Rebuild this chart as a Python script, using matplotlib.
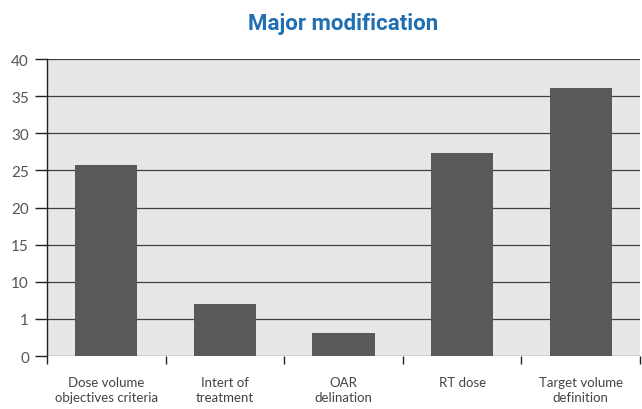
import numpy as np
import matplotlib.pyplot as plt
from matplotlib.ticker import FixedLocator

categories = ["Dose volume\nobjectives criteria", "Intert of\ntreatment", "OAR\ndelination",
              "RT dose", "Target volume\ndefinition"]
values = [25.7, 7.0, 3.1, 27.4, 36.1]
ytick_pos = [0, 5, 10, 15, 20, 25, 30, 35, 40]
ytick_labels = ["0", "1", "10", "15", "20", "25", "30", "35", "40"]

label_font = ["Lato", "DejaVu Sans"]

fig = plt.figure(figsize=(6.42, 4.10), dpi=100)
ax = fig.add_axes([0.0732, 0.129, 0.9237, 0.7244])
ax.set_facecolor("#e6e7e8")

x = np.arange(len(categories))
ax.bar(x, values, width=0.525, color="#58595b", zorder=3)

ax.set_xlim(-0.5, len(categories) - 0.5)
ax.set_ylim(0, 40)

# horizontal rules across the plot area
for yv in ytick_pos:
    ax.axhline(yv, color="#404040", lw=0.9, zorder=2)

ax.set_yticks(ytick_pos)
ax.set_yticklabels(ytick_labels, fontsize=11, color="#555555", family=label_font)
ax.tick_params(axis="y", length=9, width=1, color="#222222", pad=4)

# boundaries get tick marks, labels sit at the bar centres
ax.xaxis.set_major_locator(FixedLocator(np.arange(-0.5, len(categories), 1.0)))
ax.set_xticklabels([])
ax.xaxis.set_minor_locator(FixedLocator(x))
ax.set_xticklabels(categories, minor=True, fontsize=9.5, color="#444444", linespacing=1.3,
                   family=label_font)
ax.tick_params(axis="x", which="major", length=6, width=1, color="#222222")
ax.tick_params(axis="x", which="minor", length=0, pad=14)

for s in ["top", "right", "bottom"]:
    ax.spines[s].set_visible(False)
ax.spines["left"].set_color("#222222")
ax.spines["left"].set_linewidth(1)

ax.set_title("Major modification", fontsize=16, fontweight="bold", color="#1f6fb2",
             family=["Roboto", "DejaVu Sans"], pad=22)

fig.savefig("out.png", dpi=100)
